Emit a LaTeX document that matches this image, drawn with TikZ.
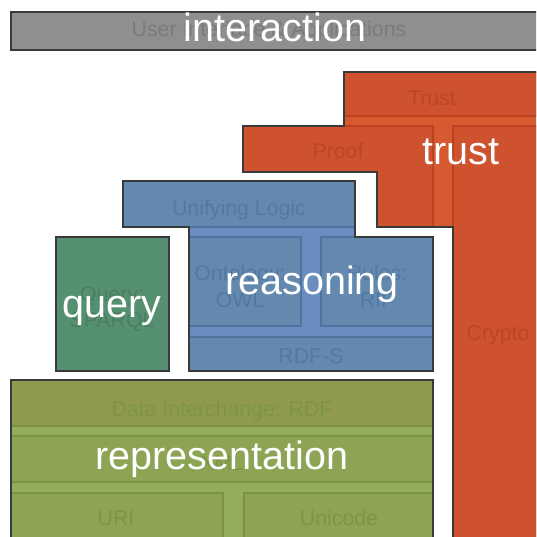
\documentclass[tikz,border=0pt]{standalone}
\usepackage{fontspec}
\setmainfont{Liberation Sans}
\definecolor{grayfill}{HTML}{8F8F8F}
\definecolor{graytext}{HTML}{7B7B7B}
\definecolor{outline}{HTML}{3A3A3A}
\definecolor{redbox}{HTML}{CE522E}
\definecolor{redgap}{HTML}{D6592F}
\definecolor{redline}{HTML}{BA4220}
\definecolor{redtext}{HTML}{BC4526}
\definecolor{bluebox}{HTML}{6489AE}
\definecolor{bluegap}{HTML}{6A8DC0}
\definecolor{blueline}{HTML}{50749F}
\definecolor{bluetext}{HTML}{5478A4}
\definecolor{querybox}{HTML}{559070}
\definecolor{querytext}{HTML}{4A7F62}
\definecolor{olivebox}{HTML}{8F9A4E}
\definecolor{greenbox}{HTML}{8CA453}
\definecolor{greengap}{HTML}{94AD5C}
\definecolor{greenline}{HTML}{7C9243}
\definecolor{greentext}{HTML}{7E9546}
\begin{document}
\begin{tikzpicture}[x=1pt,y=-1pt,
  lbl/.style={font=\fontsize{21.3}{26}\selectfont, inner sep=0pt, anchor=base},
  big/.style={font=\fontsize{39.5}{42}\selectfont, text=white, inner sep=0pt, anchor=base},
  edge/.style={draw=outline, line width=1.1pt, line join=miter},
  redb/.style={fill=redbox, draw=redline, line width=1.4pt},
  blueb/.style={fill=bluebox, draw=blueline, line width=1.4pt},
  greenb/.style={fill=greenbox, draw=greenline, line width=1.4pt}]
\useasboundingbox (0,0) rectangle (536,537);
\clip (0,0) rectangle (536,537);
% interaction
\draw[fill=grayfill, edge] (11,12) rectangle (545,50);
% trust group
\fill[redgap] (344,72) -- (545,72) -- (545,545) -- (453,545) -- (453,227) -- (377,227) -- (377,172) -- (243,172) -- (243,126) -- (344,126) -- cycle;
\draw[redb] (344,72) rectangle (545,116);
\draw[redb] (243,126) -- (433,126) -- (433,227) -- (377,227) -- (377,172) -- (243,172) -- cycle;
\draw[redb] (453,126) rectangle (545,545);
\draw[edge] (344,72) -- (545,72) -- (545,545) -- (453,545) -- (453,227) -- (377,227) -- (377,172) -- (243,172) -- (243,126) -- (344,126) -- cycle;
% reasoning group
\fill[bluegap] (123,181) -- (355,181) -- (355,237) -- (433,237) -- (433,371) -- (189,371) -- (189,227) -- (123,227) -- cycle;
\draw[blueb] (123,181) rectangle (355,227);
\draw[blueb] (189,237) rectangle (301,326);
\draw[blueb] (321,237) rectangle (433,326);
\draw[blueb] (189,337) rectangle (433,371);
\draw[edge] (123,181) -- (355,181) -- (355,237) -- (433,237) -- (433,371) -- (189,371) -- (189,227) -- (123,227) -- cycle;
% query
\draw[fill=querybox, edge] (56,237) rectangle (169,371);
% representation group
\fill[greengap] (11,380) rectangle (433,545);
\draw[fill=olivebox, draw=greenline, line width=1.4pt] (11,380) rectangle (433,426);
\draw[greenb] (11,436) rectangle (433,482);
\draw[greenb] (11,493) rectangle (223,545);
\draw[greenb] (244,493) rectangle (433,545);
\draw[edge] (11,380) rectangle (433,545);
% small labels
\node[lbl, text=graytext] (ui) at (269,37) {User Interface \& Applications};
\node[lbl, text=redtext] (trustl) at (432,106) {Trust};
\node[lbl, text=redtext] (proofl) at (338,159) {Proof};
\node[lbl, text=redtext] (cryptol) at (498,340) {Crypto};
\node[lbl, text=bluetext] (unify) at (239,215) {Unifying Logic};
\node[lbl, text=bluetext] (ont1) at (240,280) {Ontology:};
\node[lbl, text=bluetext] (ont2) at (240,307) {OWL};
\node[lbl, text=bluetext] (rules1) at (377,280) {Rules:};
\node[lbl, text=bluetext] (rules2) at (377,307) {RIF};
\node[lbl, text=bluetext] (rdfs) at (311,363) {RDF-S};
\node[lbl, text=querytext] (q1) at (112,301) {Query:};
\node[lbl, text=querytext] (q2) at (112,327) {SPARQL};
\node[lbl, text=greentext] (rdf) at (222,416) {Data Interchange: RDF};
\node[lbl, text=greentext] (xml) at (222,470) {XML};
\node[lbl, text=greentext] (uri) at (116,525) {URI};
\node[lbl, text=greentext] (unicode) at (339,525) {Unicode};
% big overlay labels
\node[big] (interaction) at (275,42) {interaction};
\node[big] (trust) at (461,165) {trust};
\node[big] (reasoning) at (312,294) {reasoning};
\node[big] (query) at (112,317) {query};
\node[big] (representation) at (222,469) {representation};
\end{tikzpicture}
\end{document}
